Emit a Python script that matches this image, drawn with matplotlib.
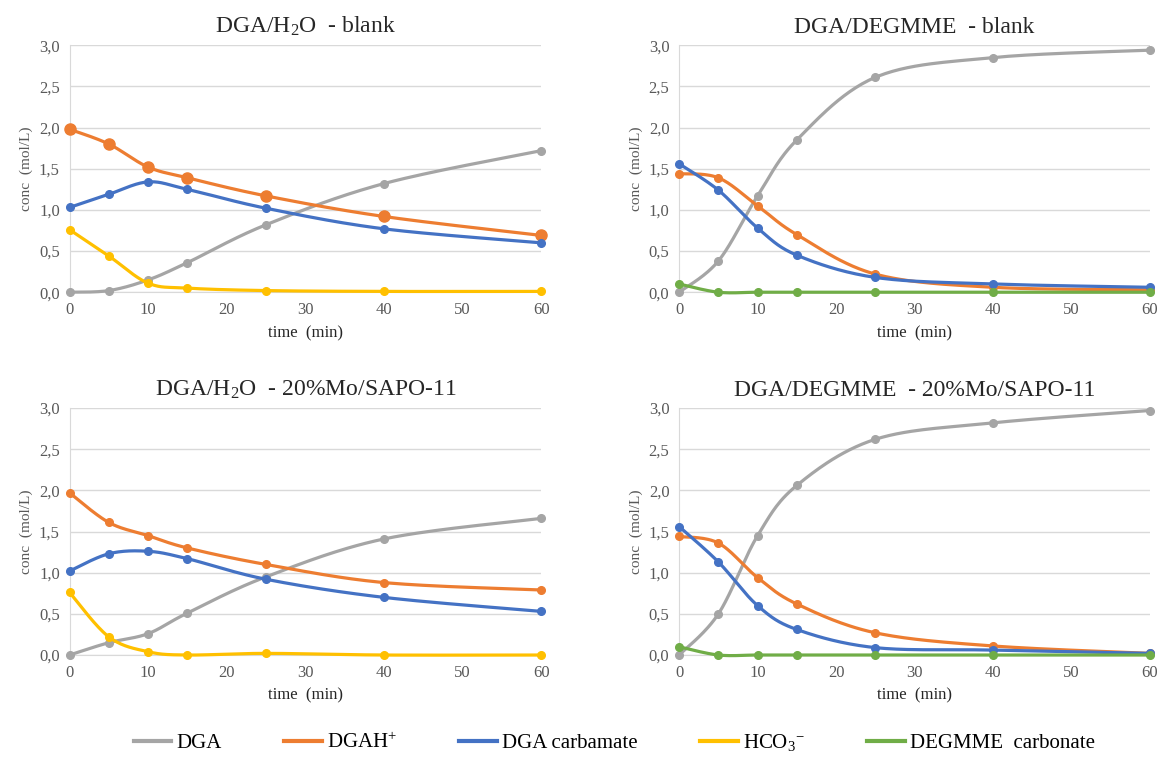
import numpy as np
import matplotlib
matplotlib.use("Agg")
import matplotlib.pyplot as plt
from matplotlib.ticker import FuncFormatter
from matplotlib.lines import Line2D

plt.rcParams['font.family'] = ['Liberation Serif', 'DejaVu Serif']
plt.rcParams['mathtext.fontset'] = 'custom'
plt.rcParams['mathtext.rm'] = 'Liberation Serif'
plt.rcParams['mathtext.it'] = 'Liberation Serif:italic'
plt.rcParams['mathtext.default'] = 'rm'

time = [0, 5, 10, 15, 25, 40, 60]

titles = ["DGA/H$_2$O  - blank", "DGA/DEGMME  - blank",
          "DGA/H$_2$O  - 20%Mo/SAPO-11", "DGA/DEGMME  - 20%Mo/SAPO-11"]

series_names = ["DGA", "DGAH$^{+}$", "DGA carbamate", "HCO$_3$$^{-}$", "DEGMME  carbonate"]
colors = ["#A5A5A5", "#ED7D31", "#4472C4", "#FFC000", "#70AD47"]

# panel 1: DGA/H2O blank
p1_dga = [0.0, 0.02, 0.15, 0.36, 0.82, 1.32, 1.72]
p1_dgah = [1.98, 1.80, 1.52, 1.39, 1.17, 0.92, 0.69]
p1_carb = [1.03, 1.19, 1.34, 1.25, 1.02, 0.77, 0.60]
p1_hco3 = [0.76, 0.44, 0.11, 0.05, 0.02, 0.01, 0.01]

# panel 2: DGA/DEGMME blank
p2_dga = [0.0, 0.38, 1.17, 1.85, 2.61, 2.85, 2.94]
p2_dgah = [1.44, 1.39, 1.05, 0.70, 0.22, 0.06, 0.03]
p2_carb = [1.56, 1.24, 0.78, 0.45, 0.18, 0.10, 0.06]
p2_degc = [0.10, 0.0, 0.0, 0.0, 0.0, 0.0, 0.0]

# panel 3: DGA/H2O 20%Mo/SAPO-11
p3_dga = [0.0, 0.15, 0.26, 0.51, 0.95, 1.41, 1.66]
p3_dgah = [1.97, 1.61, 1.45, 1.30, 1.10, 0.88, 0.79]
p3_carb = [1.02, 1.23, 1.26, 1.17, 0.92, 0.70, 0.53]
p3_hco3 = [0.76, 0.22, 0.04, 0.0, 0.02, 0.0, 0.0]

# panel 4: DGA/DEGMME 20%Mo/SAPO-11
p4_dga = [0.0, 0.50, 1.45, 2.06, 2.62, 2.82, 2.97]
p4_dgah = [1.44, 1.36, 0.94, 0.62, 0.27, 0.11, 0.02]
p4_carb = [1.56, 1.13, 0.60, 0.31, 0.09, 0.06, 0.02]
p4_degc = [0.10, 0.0, 0.0, 0.0, 0.0, 0.0, 0.0]

panels = [
    {0: p1_dga, 1: p1_dgah, 2: p1_carb, 3: p1_hco3},
    {0: p2_dga, 1: p2_dgah, 2: p2_carb, 4: p2_degc},
    {0: p3_dga, 1: p3_dgah, 2: p3_carb, 3: p3_hco3},
    {0: p4_dga, 1: p4_dgah, 2: p4_carb, 4: p4_degc},
]


def smooth(x, y, n=30):
    # Excel-like smoothed line: cubic bezier with catmull-rom control points
    x = np.asarray(x, float)
    y = np.asarray(y, float)
    px = np.concatenate([[x[0]], x, [x[-1]]])
    py = np.concatenate([[y[0]], y, [y[-1]]])
    t = np.linspace(0, 1, n)
    xs, ys = [], []
    for i in range(1, len(px) - 2):
        b0 = (px[i], py[i])
        b3 = (px[i + 1], py[i + 1])
        b1 = (px[i] + (px[i + 1] - px[i - 1]) / 6, py[i] + (py[i + 1] - py[i - 1]) / 6)
        b2 = (px[i + 1] - (px[i + 2] - px[i]) / 6, py[i + 1] - (py[i + 2] - py[i]) / 6)
        for k in range(2):
            c = ((1 - t) ** 3 * b0[k] + 3 * (1 - t) ** 2 * t * b1[k]
                 + 3 * (1 - t) * t ** 2 * b2[k] + t ** 3 * b3[k])
            (xs if k == 0 else ys).append(c)
    return np.concatenate(xs), np.concatenate(ys)


fig = plt.figure(figsize=(11.59, 7.67), dpi=100)
positions = [
    [0.060, 0.619, 0.407, 0.322],
    [0.586, 0.619, 0.406, 0.322],
    [0.060, 0.146, 0.407, 0.322],
    [0.586, 0.146, 0.406, 0.322],
]

for idx, (pos, data) in enumerate(zip(positions, panels)):
    ax = fig.add_axes(pos)
    for s, vals in data.items():
        sx, sy = smooth(time, vals)
        ms = 5.5
        if idx == 0 and s == 1:
            ms = 8
        ax.plot(sx, sy, color=colors[s], lw=2.3, zorder=3 + s * 0.1, solid_capstyle='round')
        ax.plot(time, vals, 'o', color=colors[s], ms=ms, zorder=3 + s * 0.1, mec=colors[s])
    ax.set_xlim(0, 60)
    ax.set_ylim(0, 3.0)
    ax.set_xticks(range(0, 61, 10))
    ax.set_yticks(np.arange(0, 3.01, 0.5))
    ax.yaxis.set_major_formatter(FuncFormatter(lambda v, p: f"{v:.1f}".replace('.', ',')))
    ax.grid(axis='y', color='#D9D9D9', lw=1)
    ax.set_axisbelow(True)
    for sp in ['top', 'right']:
        ax.spines[sp].set_visible(False)
    for sp in ['left', 'bottom']:
        ax.spines[sp].set_color('#D9D9D9')
    ax.tick_params(length=0, labelsize=12, colors='#595959', pad=7)
    ax.set_xlabel("time  (min)", fontsize=12, labelpad=5, color='#262626')
    ax.set_ylabel("conc  (mol/L)", fontsize=11, color='#595959', labelpad=4)
    ax.set_title(titles[idx], fontsize=17, color='#262626', pad=9)
    for sp in ax.spines.values():
        sp.set_clip_on(False)
    for ln in ax.lines:
        ln.set_clip_on(False)

handles = [Line2D([0], [0], color=c, lw=3) for c in colors]
fig.legend(handles, series_names, loc='center', bbox_to_anchor=(0.53, 0.032), ncol=5,
           frameon=False, fontsize=15, handlelength=1.8, columnspacing=3.0, handletextpad=0.25)

fig.savefig("out.png", dpi=100)
